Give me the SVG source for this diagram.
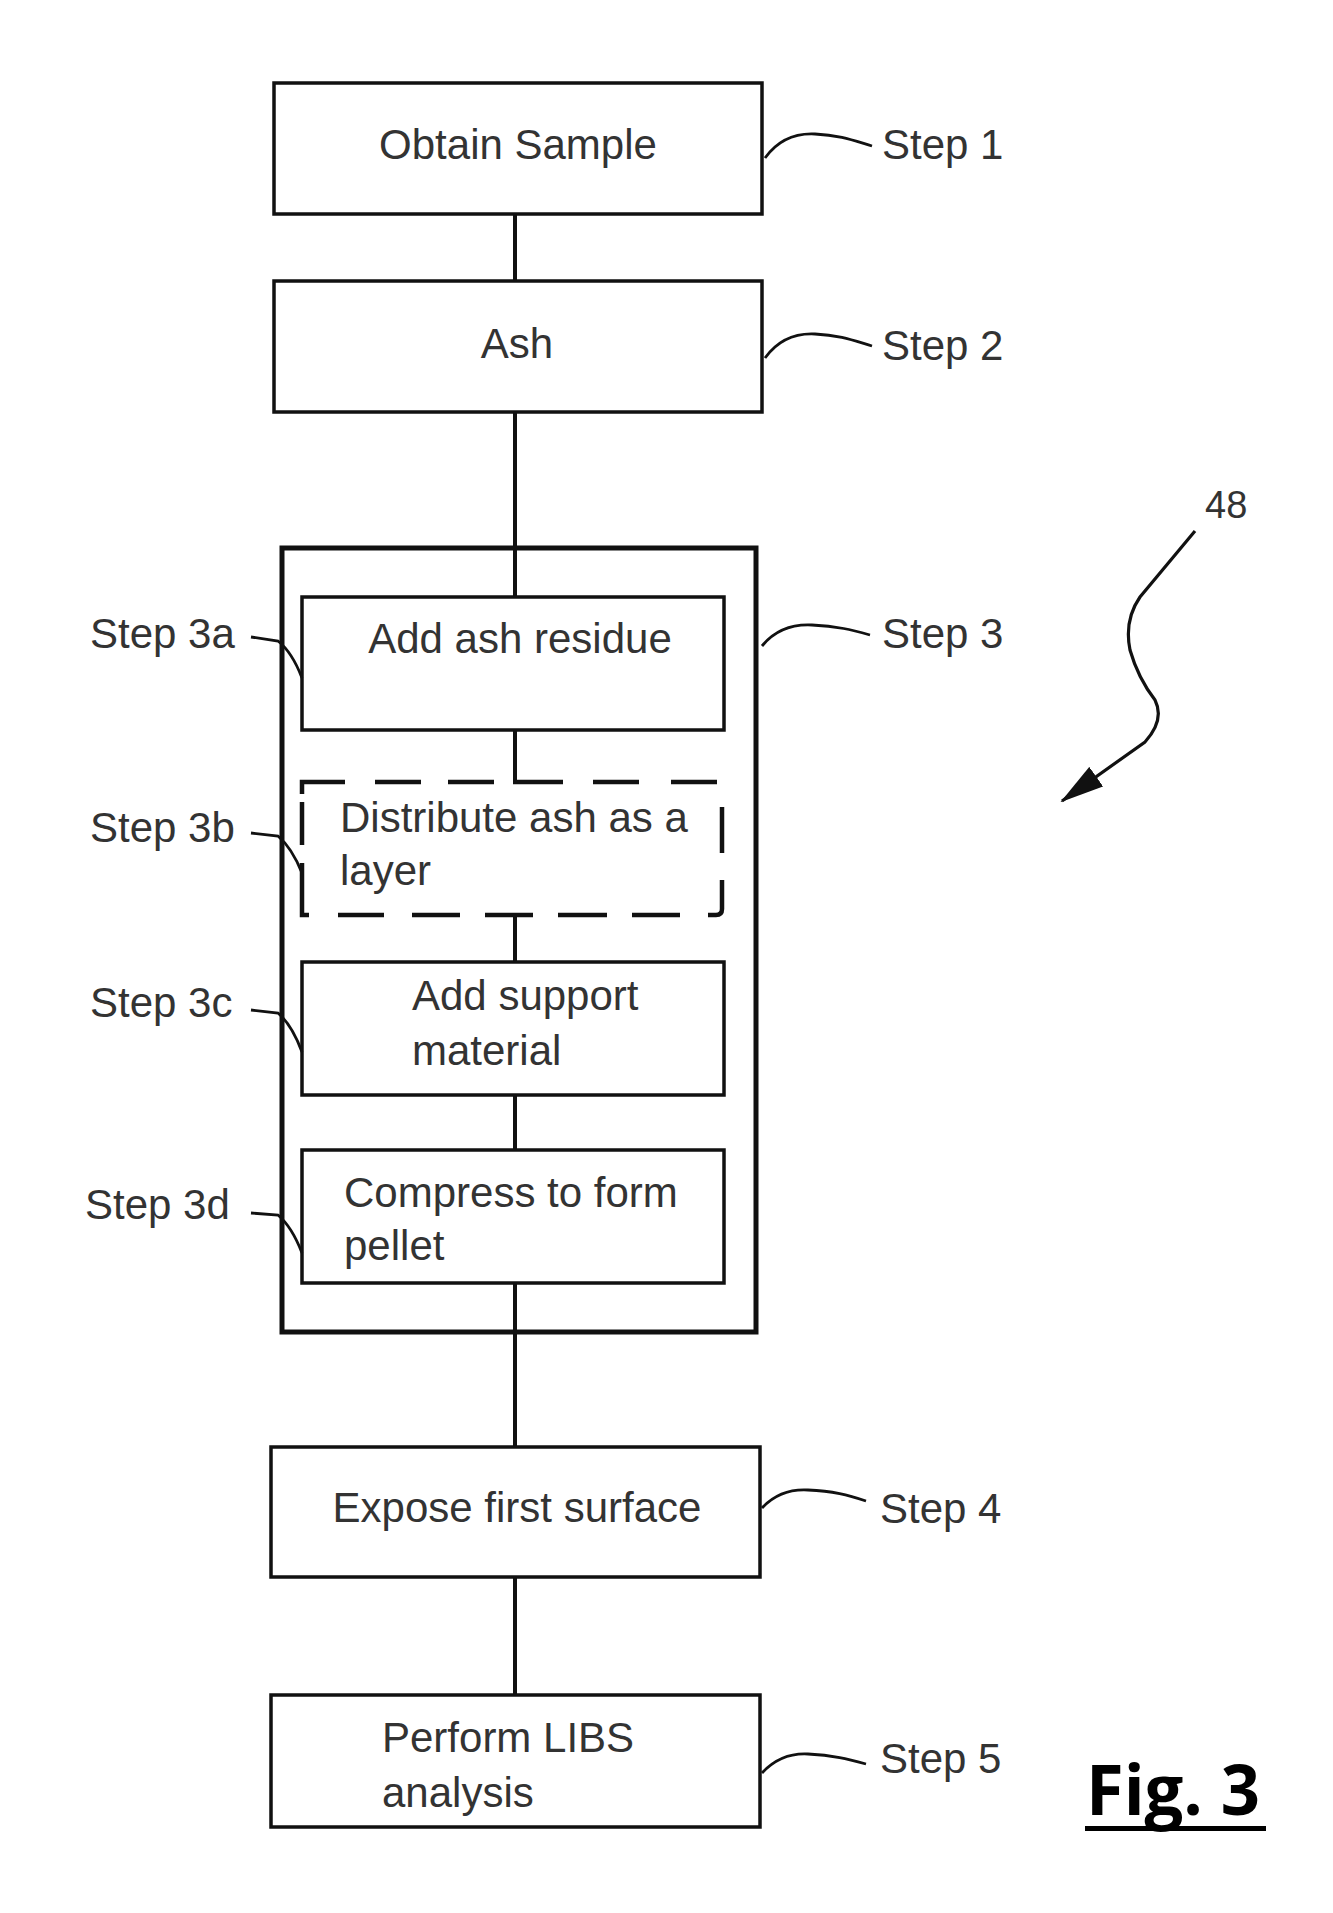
<svg xmlns="http://www.w3.org/2000/svg" width="1333" height="1913" viewBox="0 0 1333 1913">
<defs>
<style>
.box{fill:none;stroke:#111;stroke-width:3.5}
.outer{fill:none;stroke:#111;stroke-width:5}
.dash{fill:none;stroke:#111;stroke-width:4.5}
.conn{fill:none;stroke:#111;stroke-width:4}
.lead{fill:none;stroke:#111;stroke-width:2.8}
.t{font-family:"Liberation Sans",Arial,sans-serif;font-size:42px;fill:#333}
.c{text-anchor:middle}
</style>
<marker id="ah" viewBox="0 0 44 24" refX="42" refY="12" markerWidth="44" markerHeight="24" markerUnits="userSpaceOnUse" orient="auto">
<path d="M0,0 L44,12 L0,24 Z" fill="#111"/>
</marker>
</defs>
<rect width="1333" height="1913" fill="#fff"/>

<g id="connectors">
<line class="conn" x1="515" y1="214" x2="515" y2="280"/>
<line class="conn" x1="515" y1="412" x2="515" y2="597"/>
<line class="conn" x1="515" y1="730" x2="515" y2="782"/>
<line class="conn" x1="515" y1="915" x2="515" y2="962"/>
<line class="conn" x1="515" y1="1095" x2="515" y2="1150"/>
<line class="conn" x1="515" y1="1283" x2="515" y2="1447"/>
<line class="conn" x1="515" y1="1577" x2="515" y2="1695"/>
</g>

<g id="leaders">
<path class="lead" d="M765,158 C778,140 795,133 815,134 C840,135 855,141 872,146"/>
<path class="lead" d="M765,358 C778,340 795,333 815,334 C840,335 855,341 872,346"/>
<path class="lead" d="M762,646 C775,630 792,624 812,625 C837,626 852,630 870,635"/>
<path class="lead" d="M762,1508 C775,1494 790,1489 808,1490 C833,1491 848,1495 866,1501"/>
<path class="lead" d="M762,1773 C775,1759 790,1753 808,1754 C833,1755 848,1759 866,1764"/>
<path class="lead" d="M251,637 L278,641 Q292,652 302,678"/>
<path class="lead" d="M251,833 L278,836 Q292,848 302,873"/>
<path class="lead" d="M251,1010 L278,1013 Q292,1025 302,1052"/>
<path class="lead" d="M251,1213 L278,1215 Q292,1227 302,1253"/>
</g>

<g id="step1">
<rect class="box" x="274" y="83" width="488" height="131"/>
<text class="t c" x="518" y="159">Obtain Sample</text>
<text class="t" x="882" y="159">Step 1</text>
</g>

<g id="step2">
<rect class="box" x="274" y="281" width="488" height="131"/>
<text class="t c" x="517" y="358">Ash</text>
<text class="t" x="882" y="360">Step 2</text>
</g>

<g id="step3">
<rect class="outer" x="282" y="548" width="474" height="784"/>
<text class="t" x="882" y="648">Step 3</text>
</g>

<g id="step3a">
<rect class="box" x="302" y="597" width="422" height="133"/>
<text class="t c" x="520" y="653">Add ash residue</text>
<text class="t" x="90" y="648">Step 3a</text>
</g>

<g id="step3b">
<path class="dash" d="M302,794 L302,782 L345,782 M375,782 L421,782 M448,782 L494,782 M513,782 L563,782 M593,782 L639,782 M671,782 L717,782 M302,802 L302,845 M302,863 L302,915 L309,915 M338,915 L384,915 M412,915 L460,915 M485,915 L533,915 M558,915 L607,915 M632,915 L680,915 M708,915 L716,915 Q722,915 722,909 L722,880 M722,807 L722,853"/>
<text class="t" x="340" y="832">Distribute ash as a</text>
<text class="t" x="340" y="885">layer</text>
<text class="t" x="90" y="842">Step 3b</text>
</g>

<g id="step3c">
<rect class="box" x="302" y="962" width="422" height="133"/>
<text class="t" x="412" y="1010">Add support</text>
<text class="t" x="412" y="1065">material</text>
<text class="t" x="90" y="1017">Step 3c</text>
</g>

<g id="step3d">
<rect class="box" x="302" y="1150" width="422" height="133"/>
<text class="t" x="344" y="1207">Compress to form</text>
<text class="t" x="344" y="1260">pellet</text>
<text class="t" x="85" y="1219">Step 3d</text>
</g>

<g id="step4">
<rect class="box" x="271" y="1447" width="489" height="130"/>
<text class="t c" x="517" y="1522">Expose first surface</text>
<text class="t" x="880" y="1523">Step 4</text>
</g>

<g id="step5">
<rect class="box" x="271" y="1695" width="489" height="132"/>
<text class="t" x="382" y="1752">Perform LIBS</text>
<text class="t" x="382" y="1807">analysis</text>
<text class="t" x="880" y="1773">Step 5</text>
</g>

<g id="ref48">
<text class="t" x="1205" y="518" style="font-size:38px">48</text>
<path class="lead" style="stroke-width:3.2" marker-end="url(#ah)" d="M1195,531 L1140,597 Q1124,620 1130,650 Q1138,678 1155,700 Q1165,720 1145,742 L1062,801"/>
</g>

<g id="figlabel">
<text x="1086" y="1815" style="font-family:'Open Sans','Liberation Sans',sans-serif;font-weight:bold;font-size:70px;fill:#000" textLength="174" lengthAdjust="spacingAndGlyphs">Fig. 3</text>
<rect x="1085" y="1826" width="181" height="5" fill="#000"/>
</g>
</svg>
